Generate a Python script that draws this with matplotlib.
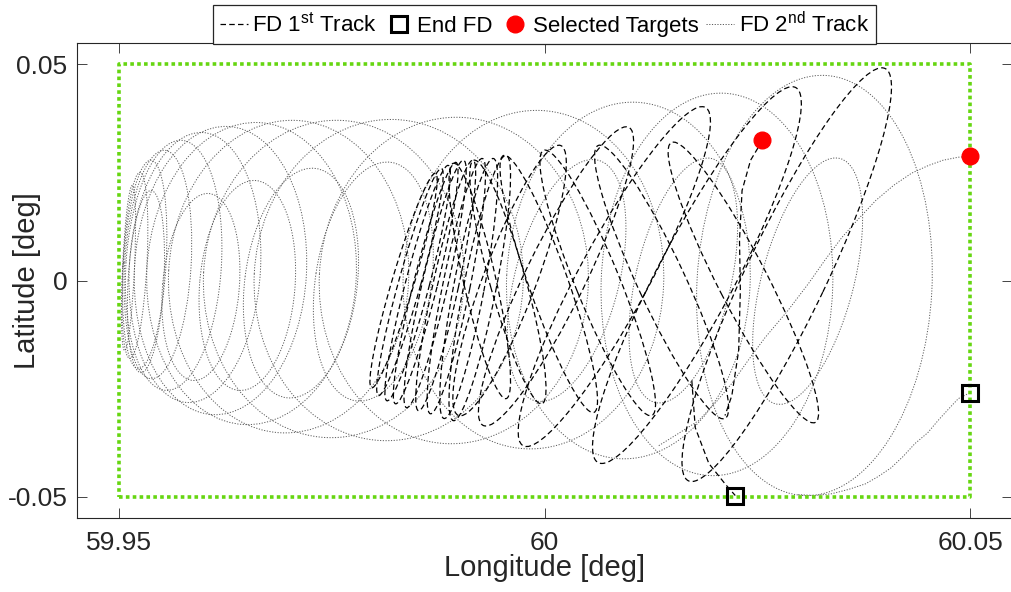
import numpy as np
import matplotlib
matplotlib.use("Agg")
import matplotlib.pyplot as plt
from matplotlib.patches import Ellipse
from matplotlib.transforms import Affine2D
from matplotlib.lines import Line2D

plt.rcParams['font.family'] = ['Liberation Sans', 'DejaVu Sans']
plt.rcParams['mathtext.fontset'] = 'custom'
plt.rcParams['mathtext.rm'] = 'Liberation Sans'

# station keeping box
box_lon = [59.95, 60.05, 60.05, 59.95, 59.95]
box_lat = [-0.05, -0.05, 0.05, 0.05, -0.05]

# FD 2nd track: daily loops, read as (top point, bottom point, lon half width)
t2_top_lon = [59.9516, 59.9525, 59.9538, 59.9554, 59.9574, 59.9599, 59.9629, 59.9665,
              59.9709, 59.9762, 59.9826, 59.9903, 59.9996, 60.0108, 60.0210, 60.0330,
              59.9538, 59.9606, 59.9661, 59.9731, 59.9820, 60.0063, 60.0196, 60.0347]
t2_top_lat = [0.0220, 0.0250, 0.0278, 0.0301, 0.0324, 0.0342, 0.0356, 0.0365,
              0.0370, 0.0370, 0.0372, 0.0377, 0.0393, 0.0412, 0.0433, 0.0474,
              0.0208, 0.0201, 0.0231, 0.0259, 0.0273, 0.0278, 0.0282, 0.0282]
t2_bot_lon = [59.9507, 59.9513, 59.9523, 59.9538, 59.9555, 59.9580, 59.9610, 59.9647,
              59.9690, 59.9743, 59.9808, 59.9884, 59.9978, 60.0089, 60.0195, 60.0304,
              59.9526, 59.9587, 59.9641, 59.9697, 59.9778, 59.9989, 60.0130, 60.0271]
t2_bot_lat = [-0.0162, -0.0180, -0.0204, -0.0227, -0.0254, -0.0282, -0.0310, -0.0333,
              -0.0352, -0.0363, -0.0370, -0.0377, -0.0389, -0.0412, -0.0451, -0.0497,
              -0.0213, -0.0231, -0.0254, -0.0271, -0.0278, -0.0278, -0.0282, -0.0285]
t2_half_w = [0.0007, 0.0014, 0.0025, 0.0039, 0.0056, 0.0077, 0.0101, 0.0123,
             0.0141, 0.0153, 0.0158, 0.0158, 0.0153, 0.0143, 0.0136, 0.0138,
             0.0021, 0.0045, 0.0056, 0.0066, 0.0068, 0.0061, 0.0056, 0.0054]
t2_start_lon = [60.0500, 60.0486, 60.0468, 60.0451, 60.0431, 60.0410, 60.0389, 60.0369,
                60.0349, 60.0330, 60.0310, 60.0286, 60.0259, 60.0239, 60.0220, 60.0201,
                60.0181, 60.0157, 60.0134]
t2_start_lat = [0.0287, 0.0285, 0.0278, 0.0266, 0.0248, 0.0220, 0.0185, 0.0143,
                0.0099, 0.0049, -0.0007, -0.0069, -0.0132, -0.0185, -0.0238, -0.0282,
                -0.0324, -0.0354, -0.0382]
t2_end_lon = [60.0298, 60.0318, 60.0337, 60.0357, 60.0377, 60.0392, 60.0407, 60.0421,
              60.0435, 60.0450, 60.0462, 60.0475, 60.0486, 60.0498]
t2_end_lat = [-0.0495, -0.0497, -0.0493, -0.0483, -0.0470, -0.0453, -0.0433, -0.0407,
              -0.0377, -0.0352, -0.0324, -0.0296, -0.0273, -0.0261]

# FD 1st track: tilted loops, read as (one tip, other tip, lon half width)
t1_a_lon = [60.0169, 60.0063, 59.9975, 59.9928, 59.9899,
            59.9797, 59.9805, 59.9815, 59.9825, 59.9838, 59.9852, 59.9866, 59.9882, 59.9893,
            60.0149, 60.0063, 59.9999, 59.9952, 59.9917, 59.9893]
t1_a_lat = [-0.0463, -0.0421, -0.0382, -0.0335, -0.0312,
            -0.0248, -0.0266, -0.0278, -0.0285, -0.0294, -0.0301, -0.0308, -0.0319, -0.0324,
            0.0319, 0.0312, 0.0301, 0.0289, 0.0278, 0.0271]
t1_b_lon = [60.0400, 60.0295, 60.0189, 60.0099, 60.0019,
            59.9872, 59.9879, 59.9887, 59.9896, 59.9905, 59.9916, 59.9927, 59.9940, 59.9955,
            60.0318, 60.0212, 60.0126, 60.0058, 59.9997, 59.9955]
t1_b_lat = [0.0490, 0.0446, 0.0400, 0.0354, 0.0312,
            0.0248, 0.0259, 0.0266, 0.0273, 0.0278, 0.0278, 0.0282, 0.0282, 0.0289,
            -0.0328, -0.0319, -0.0312, -0.0305, -0.0285, -0.0273]
t1_half_w = [0.0047, 0.0045, 0.0041, 0.0035, 0.0031,
             0.0013, 0.0013, 0.0014, 0.0014, 0.0015, 0.0015, 0.0016, 0.0018, 0.0019,
             0.0029, 0.0028, 0.0026, 0.0023, 0.0021, 0.0019]
t1_start_lon = [60.0256, 60.0242, 60.0232, 60.0229, 60.0230, 60.0228, 60.0220, 60.0212]
t1_start_lat = [0.0324, 0.0278, 0.0208, 0.0093, -0.0023, -0.0162, -0.0266, -0.0312]
t1_end_lon = [60.0173, 60.0177, 60.0193, 60.0212, 60.0224]
t1_end_lat = [-0.0231, -0.0340, -0.0423, -0.0470, -0.0497]

end_lon = [60.0224, 60.0500]
end_lat = [-0.0497, -0.0261]
target_lon = [60.0256, 60.0500]
target_lat = [0.0324, 0.0288]

W, H = 1011, 592
fig = plt.figure(figsize=(W / 100, H / 100), dpi=100)
ax_pos = [77 / W, 74 / H, 935 / W, 475 / H]
ax = fig.add_axes(ax_pos)
xlim = (59.9451, 60.0549)
ylim = (-0.0549, 0.0549)
ax.set_xlim(xlim)
ax.set_ylim(ylim)

# scale so that loops can be tilted in screen space
k = (ax_pos[3] * H / (ylim[1] - ylim[0])) / (ax_pos[2] * W / (xlim[1] - xlim[0]))
iso = Affine2D().scale(1, 1 / k) + ax.transData


def add_loops(lon1, lat1, lon2, lat2, hw, **kw):
    for x1, y1, x2, y2, w in zip(lon1, lat1, lon2, lat2, hw):
        v1, v2 = y1 * k, y2 * k
        ang = np.degrees(np.arctan2(v2 - v1, x2 - x1))
        length = np.hypot(x2 - x1, v2 - v1)
        e = Ellipse(((x1 + x2) / 2, (v1 + v2) / 2), length, 2 * w, angle=ang,
                    transform=iso, fill=False, **kw)
        ax.add_patch(e)


dot2 = dict(color='#5a5a5a', lw=0.7, linestyle=(0, (1.2, 1.6)))
dash1 = dict(color='black', lw=0.9, linestyle=(0, (4.4, 2.6)))

add_loops(t2_top_lon, t2_top_lat, t2_bot_lon, t2_bot_lat, t2_half_w, zorder=1, **dot2)
ax.plot(t2_start_lon, t2_start_lat, zorder=1, **dot2)
ax.plot(t2_end_lon, t2_end_lat, zorder=1, **dot2)

add_loops(t1_a_lon, t1_a_lat, t1_b_lon, t1_b_lat, t1_half_w, zorder=2, **dash1)
ax.plot(t1_start_lon, t1_start_lat, zorder=2, **dash1)
ax.plot(t1_end_lon, t1_end_lat, zorder=2, **dash1)

ax.plot(box_lon, box_lat, color='#66d611', lw=2.6, linestyle=(0, (1, 0.9)), zorder=3)
ax.plot(end_lon, end_lat, 's', ms=12, mfc='none', mec='black', mew=2.2, zorder=4)
ax.plot(target_lon, target_lat, 'o', ms=12, mfc='red', mec='red', zorder=4)

ax.set_xticks([59.95, 60, 60.05])
ax.set_xticklabels(['59.95', '60', '60.05'])
ax.set_yticks([-0.05, 0, 0.05])
ax.set_yticklabels(['-0.05', '0', '0.05'])
ax.tick_params(direction='in', length=7, width=0.6, top=True, right=True,
               labelsize=19, colors='#262626', pad=7)
ax.tick_params(axis='x', pad=9)
for s in ax.spines.values():
    s.set_color('#262626')
    s.set_linewidth(0.8)

ax.set_xlabel('Longitude [deg]', fontsize=21, color='#262626')
ax.set_ylabel('Latitude [deg]', fontsize=21, color='#262626')
ax.xaxis.set_label_coords(0.5005, -0.075)
ax.yaxis.set_label_coords(-0.038, 0.5)

handles = [
    Line2D([], [], **dash1),
    Line2D([], [], marker='s', ls='none', ms=12, mfc='none', mec='black', mew=2.2),
    Line2D([], [], marker='o', ls='none', ms=12, mfc='red', mec='red'),
    Line2D([], [], **dot2),
]
labels = [r'FD 1$^{\mathrm{st}}$ Track', 'End FD', 'Selected Targets', r'FD 2$^{\mathrm{nd}}$ Track']
leg = fig.legend(handles, labels, loc='upper center', bbox_to_anchor=(544.5 / W, 1 - 5 / H),
                 ncol=4, fontsize=16, frameon=True, fancybox=False, edgecolor='#262626',
                 framealpha=1, borderpad=0.3, handlelength=1.25, handletextpad=0.2,
                 columnspacing=0.35, borderaxespad=0)
leg.get_frame().set_linewidth(0.9)
leg.set_zorder(10)

fig.savefig('out.png', dpi=100)
